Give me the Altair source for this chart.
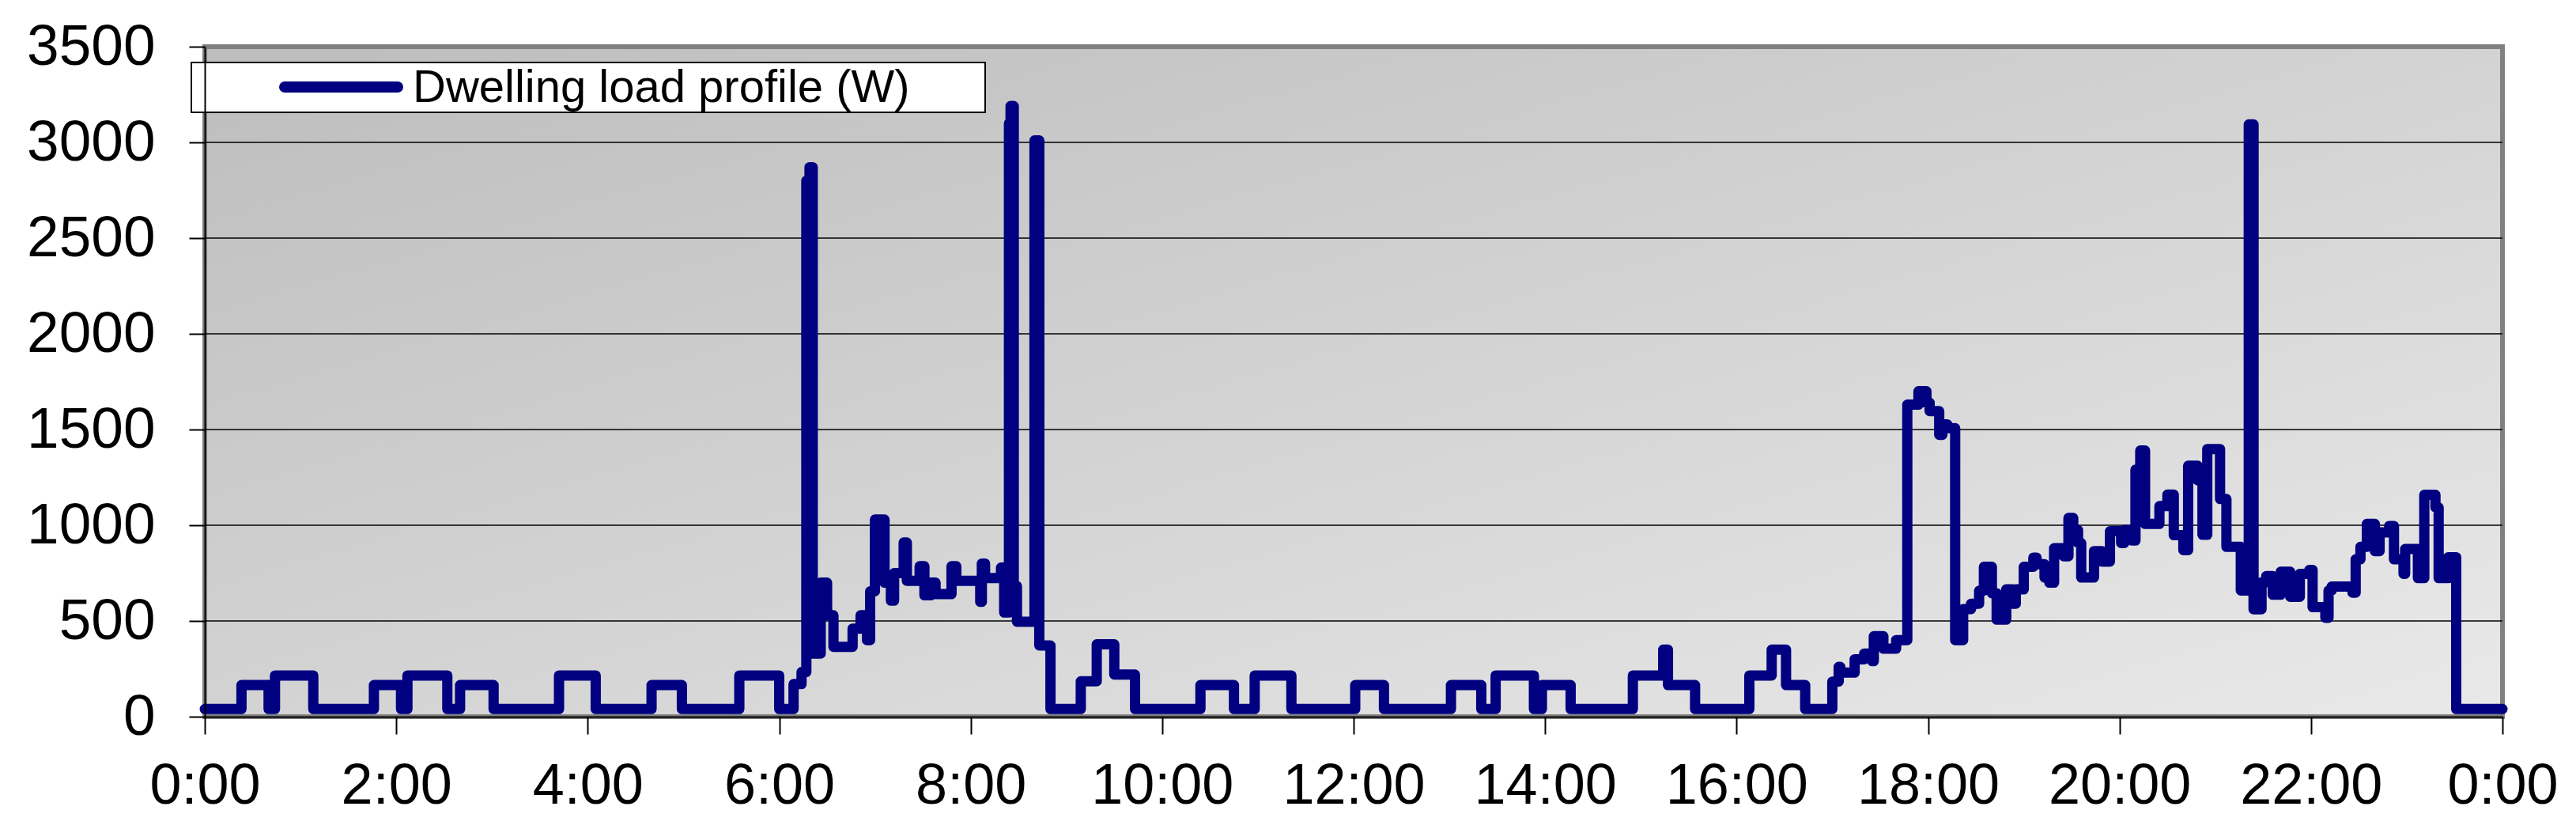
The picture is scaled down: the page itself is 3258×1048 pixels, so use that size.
import altair as alt
import pandas as pd

SERIES_NAME = "Dwelling load profile (W)"

# time of each level change (minutes after midnight) and the load from then on (W)
minutes = [0, 23, 40, 44, 68, 106, 123, 127, 152, 160, 181, 222, 245, 280, 299, 335, 360,
           369, 374, 377, 379, 381, 386, 390, 394, 406, 411, 415, 417, 420, 426, 430, 432,
           438, 440, 448, 451, 455, 458, 468, 471, 486, 487, 489, 499, 501, 504, 505, 507,
           509, 520, 523, 530, 549, 559, 570, 583,
           624, 645, 658, 681, 721, 739, 781, 800, 809, 833, 838, 856, 895,
           914, 917, 934, 968, 982, 991, 1003, 1020, 1024, 1025, 1034, 1040, 1045, 1046,
           1052, 1060, 1067, 1074, 1079, 1081, 1087, 1089, 1092, 1097, 1102, 1107, 1112,
           1115, 1120, 1123, 1129, 1133, 1135, 1140, 1146, 1148, 1153, 1156, 1159, 1165,
           1168, 1171, 1174, 1176, 1184, 1189, 1194, 1201, 1203, 1208, 1210, 1213, 1216,
           1225, 1230, 1234, 1240, 1243, 1249, 1252, 1255, 1263, 1267, 1276, 1281, 1284,
           1289, 1292, 1296, 1301, 1307, 1313, 1319, 1321, 1329, 1331, 1333, 1346, 1348,
           1351, 1355, 1360, 1363, 1369, 1372, 1378, 1379, 1387, 1391, 1398, 1400, 1406,
           1411, 1440]
watts = [40, 165, 40, 215, 40, 165, 40, 215, 40, 165, 40, 215, 40, 165, 40, 215, 40,
         170, 233, 2800, 2870, 330, 700, 530, 365, 460, 530, 400, 655, 1030, 700, 606, 750,
         910, 710, 786, 634, 700, 640, 786, 710, 600, 800, 724, 779, 544, 3100, 3190, 682,
         496, 3010, 372, 40, 185, 378, 220, 40,
         165, 40, 215, 40, 165, 40, 165, 40, 215, 40, 165, 40, 215,
         350, 165, 40, 215, 350, 165, 40, 183, 260, 230, 300, 330, 290, 420,
         355, 400, 1630, 1700, 1640, 1596, 1472, 1527, 1507, 400, 562, 590, 658,
         783, 645, 507, 665, 590, 665, 783, 831, 796, 727, 700, 880, 838,
         1038, 975, 907, 727, 865, 810, 969, 907, 975, 920, 1290, 1390, 1007,
         1100, 1160, 948, 870, 1311, 1235, 950, 1398, 1137, 887, 659, 3094, 561,
         702, 735, 637, 757, 626, 746, 767, 572, 517, 659, 680, 648, 822,
         887, 1007, 865, 963, 996, 822, 746, 876, 724, 1159, 1093, 724, 833,
         40, 40]

y_ticks = [0, 500, 1000, 1500, 2000, 2500, 3000, 3500]
grid_values = [500, 1000, 1500, 2000, 2500, 3000]
x_ticks = [0, 120, 240, 360, 480, 600, 720, 840, 960, 1080, 1200, 1320, 1440]

W, H = 2906, 847
FONT = "Liberation Sans"
NAVY = "#000080"

df = pd.DataFrame({"minute": minutes, "watts": watts})
x_scale = alt.Scale(domain=[0, 1440], nice=False, zero=False)
y_scale = alt.Scale(domain=[0, 3500], nice=False)

x_axis = alt.Axis(values=x_ticks, title=None, grid=False,
                  labelExpr="floor(datum.value / 60) % 24 + ':00'",
                  labelFont=FONT, labelFontSize=72, labelColor="black", labelLimit=500,
                  labelPadding=30, tickSize=22, tickWidth=2, tickColor="black",
                  domainColor="black", domainWidth=2, labelFlush=False,
                  labelOverlap=False, zindex=1)
y_axis = alt.Axis(values=y_ticks, title=None, grid=False, format="d",
                  labelFont=FONT, labelFontSize=73, labelColor="black", labelLimit=500,
                  labelPadding=43, tickSize=20, tickWidth=2, tickColor="black",
                  domainColor="black", domainWidth=2, labelFlush=False,
                  labelOverlap=False, zindex=1)

background = alt.Chart(pd.DataFrame({"k": [0]})).mark_rect(
    fill=alt.Gradient(
        gradient="linear", x1=0, y1=0, x2=1, y2=1,
        stops=[alt.GradientStop(color="#bdbdbd", offset=0),
               alt.GradientStop(color="#e9e9e9", offset=1)]),
    stroke="#808080", strokeWidth=6,
).encode(x=alt.value(0), x2=alt.value(W), y=alt.value(0), y2=alt.value(H))

grid = alt.Chart(pd.DataFrame({"v": grid_values})).mark_rule(
    color="black", strokeWidth=1.5
).encode(y=alt.Y("v:Q", scale=y_scale, axis=y_axis))

line = alt.Chart(df).mark_line(
    interpolate="step-after", color=NAVY, strokeWidth=13,
    strokeCap="round", strokeJoin="round"
).encode(
    x=alt.X("minute:Q", scale=x_scale, axis=x_axis),
    y=alt.Y("watts:Q", scale=y_scale, axis=y_axis),
)

leg_df = pd.DataFrame({"label": [SERIES_NAME]})
leg_box = alt.Chart(leg_df).mark_rect(fill="white", stroke="black", strokeWidth=2).encode(
    x=alt.value(-17), x2=alt.value(987), y=alt.value(20), y2=alt.value(83))
leg_sym = alt.Chart(leg_df).mark_rule(color=NAVY, strokeWidth=14, strokeCap="round").encode(
    x=alt.value(101), x2=alt.value(244), y=alt.value(51))
leg_txt = alt.Chart(leg_df).mark_text(
    align="left", baseline="middle", font=FONT, fontSize=58, color="black"
).encode(x=alt.value(263), y=alt.value(53), text="label:N")

chart = alt.layer(background, grid, line, leg_box, leg_sym, leg_txt).properties(
    width=W, height=H,
    autosize=alt.AutoSizeParams(type="none"),
    padding={"left": 251, "top": 51, "right": 80, "bottom": 130},
    background="white",
).configure_view(stroke=None)

chart.save("out.html", embed_options={"renderer": "svg", "actions": False})
